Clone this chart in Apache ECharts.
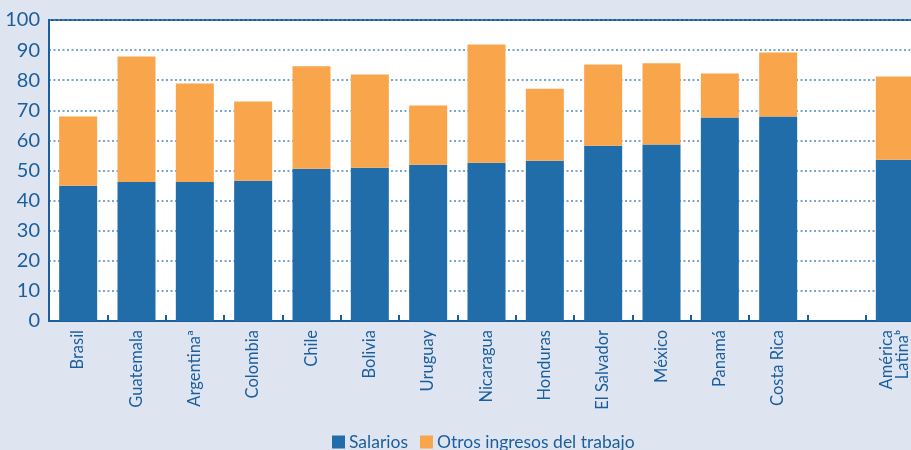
<!DOCTYPE html>
<html>
<head>
<meta charset="utf-8">
<script src="https://cdn.jsdelivr.net/npm/echarts@6/dist/echarts.min.js"></script>
<style>
html,body{margin:0;padding:0;background:#dfe5f0;overflow:hidden;}
#c{width:924px;height:450px;}
</style>
</head>
<body>
<div id="c"></div>
<script>
var categories = ['Brasil','Guatemala','Argentinaª','Colombia','Chile','Bolivia','Uruguay','Nicaragua','Honduras','El Salvador','México','Panamá','Costa Rica','','América\nLatinaᵇ'];
var salarios = [44.9,46.2,46.2,46.6,50.6,50.9,51.9,52.6,53.2,58.2,58.6,67.6,67.9,'-',53.6];
var otros = [23.0,41.7,32.7,26.3,34.0,31.0,19.7,39.3,24.0,27.0,27.0,14.6,21.3,'-',27.6];
var yTicks = [0,10,20,30,40,50,60,70,80,90,100];

var axisColor = '#1a5e9e';
var fontFam = 'Lato, "Open Sans", sans-serif';
var chart = echarts.init(document.getElementById('c'));
chart.setOption({
  backgroundColor: '#dfe5f0',
  animation: false,
  grid: {left: 49, top: 20, right: 0, bottom: 129, show: true, backgroundColor: '#ffffff', borderColor: axisColor, borderWidth: 2, containLabel: false},
  legend: {
    top: 428, left: 327, itemWidth: 13, itemHeight: 13, itemGap: 12,
    icon: 'rect',
    textStyle: {color: axisColor, fontSize: 17.5, fontFamily: fontFam, padding: [0,0,0,-1]},
    data: ['Salarios','Otros ingresos del trabajo']
  },
  xAxis: {
    type: 'category', data: categories,
    axisLine: {lineStyle: {color: axisColor, width: 2}},
    axisTick: {show: true, inside: true, length: 6, lineStyle: {color: axisColor, width: 2}},
    axisLabel: {rotate: 90, color: axisColor, fontSize: 16.5, fontFamily: fontFam, margin: 9, interval: 0, lineHeight: 16}
  },
  yAxis: {
    type: 'value', min: 0, max: 100, interval: 10,
    axisLine: {show: true, lineStyle: {color: axisColor, width: 2}},
    axisTick: {show: false},
    axisLabel: {color: axisColor, fontSize: 20, fontFamily: fontFam, margin: 9,
      formatter: function(v){ return yTicks.indexOf(v) >= 0 ? String(v) : ''; }},
    splitLine: {show: true, lineStyle: {color: '#4f88c0', width: 1.5, type: [2, 2.5]}}
  },
  series: [
    {name: 'Salarios', type: 'bar', stack: 'a', data: salarios, barWidth: 38, itemStyle: {color: '#216daa'}},
    {name: 'Otros ingresos del trabajo', type: 'bar', stack: 'a', data: otros, barWidth: 38, itemStyle: {color: '#f9a54b'}}
  ]
});
</script>
</body>
</html>
